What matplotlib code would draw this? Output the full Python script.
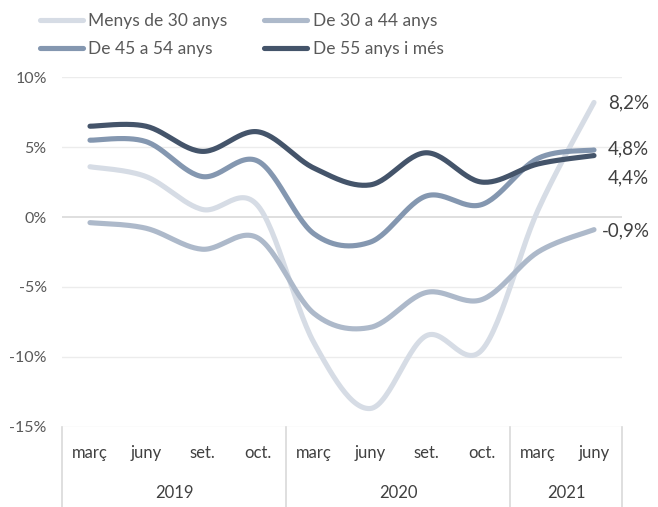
import numpy as np
import matplotlib
matplotlib.use('Agg')
import matplotlib.pyplot as plt

plt.rcParams['font.family'] = ['Lato', 'DejaVu Sans']

# Data (% change)
months = ['març', 'juny', 'set.', 'oct.', 'març', 'juny', 'set.', 'oct.', 'març', 'juny']
years = ['2019', '2020', '2021']
year_spans = [(0, 4), (4, 8), (8, 10)]

series_names = ['Menys de 30 anys', 'De 30 a 44 anys', 'De 45 a 54 anys', 'De 55 anys i més']
menys30 = [3.6, 2.9, 0.55, 0.8, -9.0, -13.7, -8.5, -9.5, 0.5, 8.2]
de30_44 = [-0.4, -0.8, -2.3, -1.5, -6.9, -7.9, -5.4, -5.9, -2.5, -0.9]
de45_54 = [5.5, 5.4, 2.9, 4.0, -1.2, -1.8, 1.5, 0.9, 4.2, 4.8]
de55 = [6.5, 6.5, 4.7, 6.1, 3.5, 2.3, 4.6, 2.5, 3.8, 4.4]
end_labels = ['8,2%', '-0,9%', '4,8%', '4,4%']

colors = ['#d6dce5', '#adb9ca', '#8497b0', '#44546a']
text_color = '#595959'


def smooth(x, y, n=30):
    # Catmull-Rom style bezier like Excel's smoothed lines
    x = np.asarray(x, float)
    y = np.asarray(y, float)
    px = np.concatenate([[x[0]], x, [x[-1]]])
    py = np.concatenate([[y[0]], y, [y[-1]]])
    xs, ys = [], []
    t = np.linspace(0, 1, n)
    for i in range(1, len(px) - 2):
        p0 = np.array([px[i], py[i]])
        p3 = np.array([px[i + 1], py[i + 1]])
        c1 = p0 + (np.array([px[i + 1], py[i + 1]]) - np.array([px[i - 1], py[i - 1]])) / 6
        c2 = p3 - (np.array([px[i + 2], py[i + 2]]) - np.array([px[i], py[i]])) / 6
        b = ((1 - t) ** 3)[:, None] * p0 + (3 * (1 - t) ** 2 * t)[:, None] * c1 \
            + (3 * (1 - t) * t ** 2)[:, None] * c2 + (t ** 3)[:, None] * p3
        xs.extend(b[:, 0])
        ys.extend(b[:, 1])
    return np.array(xs), np.array(ys)


fig = plt.figure(figsize=(6.58, 5.07), dpi=100)
W, H = 658, 507
ax = fig.add_axes([62 / W, (H - 426.7) / H, 560 / W, 349.4 / H])

x = np.arange(len(months))
data = [menys30, de30_44, de45_54, de55]
lines = []
for vals, name, c in zip(data, series_names, colors):
    sx, sy = smooth(x, vals)
    ln, = ax.plot(sx, sy, color=c, lw=3.7, solid_capstyle='round', label=name)
    lines.append(ln)

ax.set_xlim(-0.5, len(months) - 0.5)
ax.set_ylim(-15, 10)
ax.set_yticks([-15, -10, -5, 0, 5, 10])
ax.set_yticklabels(['-15%', '-10%', '-5%', '0%', '5%', '10%'])
ax.tick_params(axis='y', length=0, pad=11, labelsize=11.5, labelcolor=text_color)
ax.set_xticks([])
for s in ax.spines.values():
    s.set_visible(False)
for v in [-15, -10, -5, 5, 10]:
    ax.axhline(v, color='#ececec', lw=1, zorder=0)
ax.axhline(0, color='#d9d9d9', lw=1.2, zorder=0)

# end labels
offsets = [(10, 0), (6, -1), (10, 1), (10, -16)]
for vals, lab, off in zip(data, end_labels, offsets):
    ax.annotate(lab, (x[-1], vals[-1]), xytext=off, textcoords='offset points',
                ha='left', va='center', fontsize=13.5, color='#404040')

# multi-level category axis
trans = ax.get_xaxis_transform()
for i, m in enumerate(months):
    ax.text(i, -0.075, m, transform=trans, ha='center', va='center',
            fontsize=12, color='#404040')
for (a, b), yr in zip(year_spans, years):
    ax.text((a + b - 1) / 2, -0.19, yr, transform=trans, ha='center', va='center',
            fontsize=12, color='#404040')
for sep in [-0.5, 3.5, 7.5, 9.5]:
    ax.plot([sep, sep], [0, -0.23], transform=trans, color='#d9d9d9', lw=1.2, clip_on=False)

# legend filled row by row (column-first order given to matplotlib)
order = [0, 2, 1, 3]
fig.legend([lines[i] for i in order], [series_names[i] for i in order],
           loc='upper left', bbox_to_anchor=(24 / W, 1.006), ncol=2, frameon=False,
           handlelength=2.5, handletextpad=0.3, columnspacing=2.1, labelspacing=0.7,
           fontsize=12.5, labelcolor=text_color)

fig.savefig('out.png', dpi=100)
